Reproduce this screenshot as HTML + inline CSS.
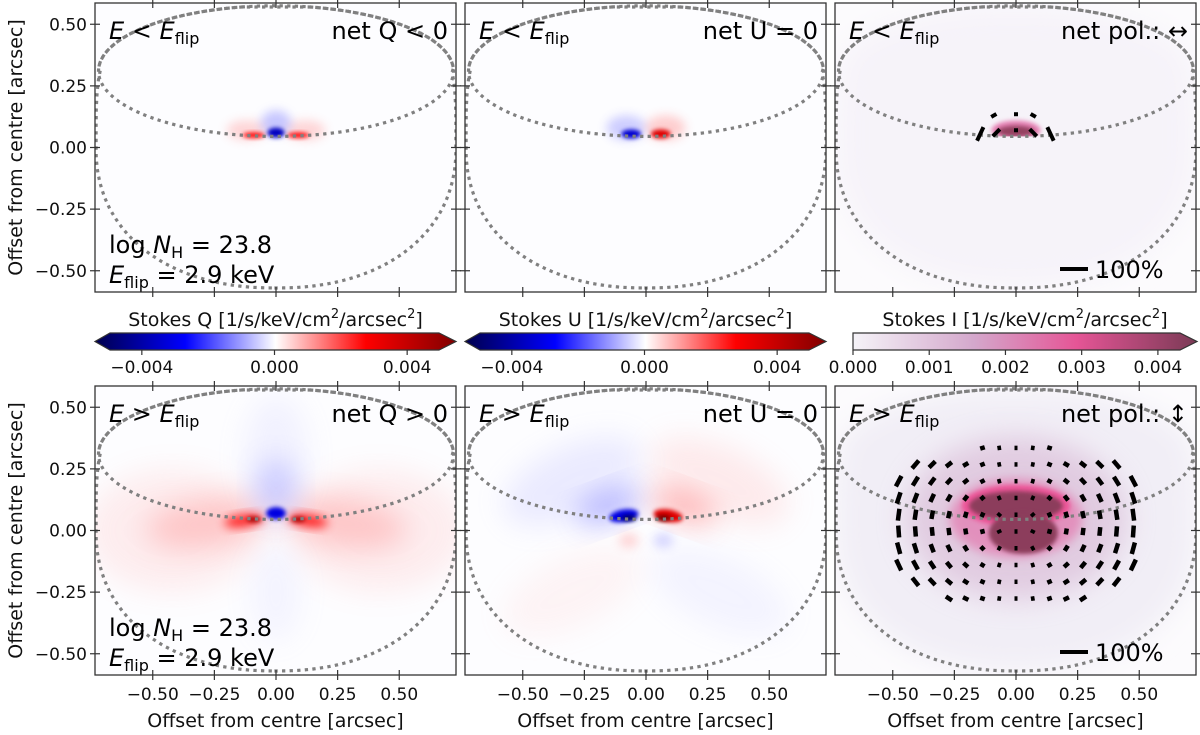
<!DOCTYPE html>
<html><head><meta charset="utf-8">
<style>
html,body{margin:0;padding:0;background:#fff;}
svg text{font-family:"DejaVu Sans","Liberation Sans",sans-serif;}
</style></head>
<body>
<svg id="fig" xmlns="http://www.w3.org/2000/svg" width="1200" height="730" viewBox="0 0 1200 730">
<defs>
<filter id="b1" x="-50%" y="-50%" width="200%" height="200%"><feGaussianBlur stdDeviation="2"/></filter>
<filter id="b2" x="-50%" y="-50%" width="200%" height="200%"><feGaussianBlur stdDeviation="5"/></filter>
<filter id="b3" x="-50%" y="-50%" width="200%" height="200%"><feGaussianBlur stdDeviation="14"/></filter>
<linearGradient id="seis" x1="0" x2="1" y1="0" y2="0">
<stop offset="0" stop-color="#00004c"/><stop offset="0.25" stop-color="#0000ff"/><stop offset="0.5" stop-color="#ffffff"/><stop offset="0.75" stop-color="#ff0000"/><stop offset="1" stop-color="#800000"/>
</linearGradient>
<linearGradient id="icm" x1="0" x2="1" y1="0" y2="0">
<stop offset="0" stop-color="#f5f3f8"/><stop offset="0.35" stop-color="#d4a8cc"/><stop offset="0.65" stop-color="#e55596"/><stop offset="1" stop-color="#7a3a55"/>
</linearGradient>
</defs>
</svg>
<script>
const NS='http://www.w3.org/2000/svg';
const svg=document.getElementById('fig');
const xTicks=[-0.5,-0.25,0,0.25,0.5];
const yTicks=[0.5,0.25,0,-0.25,-0.5];
const xTickLabels=['−0.50','−0.25','0.00','0.25','0.50'];
const yTickLabels=['0.50','0.25','0.00','−0.25','−0.50'];
const qTicks=[-0.004,0,0.004];
const qTickLabels=['−0.004','0.000','0.004'];
const iTicks=[0,0.001,0.002,0.003,0.004];
const iTickLabels=['0.000','0.001','0.002','0.003','0.004'];
const cols=[95,465,835], rows=[3,386];
const PW=361, PH=289, S=246.5;

function el(tag,attrs,parent){const e=document.createElementNS(NS,tag);for(const k in attrs)e.setAttribute(k,attrs[k]);(parent||svg).appendChild(e);return e;}

function outerPath(X,Y){
  let pts=[];
  for(let i=0;i<=100;i++){const t=-Math.PI/2+Math.PI*i/100;
    let y=0.57*Math.sin(t); let x;
    if(y<=0){x=0.73*Math.pow(Math.max(0,1-Math.pow(Math.abs(y)/0.57,2.2)),1/2.2);}
    else if(y<0.31){x=0.73*Math.pow(1-Math.pow(y/0.57,4),0.25);}
    else{const e=(y-0.31)/0.265;x=Math.abs(e)<1?0.72*Math.sqrt(1-e*e):0;x=Math.max(x,0.713*Math.sqrt(Math.max(0,1-e*e)));}
    pts.push([x,y]);}
  const all=pts.concat(pts.slice().reverse().map(p=>[-p[0],p[1]]));
  return 'M'+all.map(p=>X(p[0]).toFixed(1)+','+Y(p[1]).toFixed(1)).join('L')+'Z';
}

function panel(ci,ri,kind,idx){
  const L=cols[ci],T=rows[ri];
  const x0=L+181,y0=T+144.5;
  const X=v=>x0+v*S, Y=v=>y0-v*S;
  const g=el('g',{});
  
  
  const cp=el('clipPath',{id:'cp'+idx},g);el('rect',{x:L,y:T,width:PW,height:PH},cp);
  const c=el('g',{'clip-path':'url(#cp'+idx+')'},g);
  const op=outerPath(X,Y);
  el('rect',{x:L,y:T,width:PW,height:PH,fill:kind==='I'?'#fcfbfd':'#fdfdff'},c);
  const E=(cx,cy,rx,ry,fill,o,f,rot)=>el('ellipse',{cx:X(cx),cy:Y(cy),rx:rx*S,ry:ry*S,fill:fill,opacity:o,filter:f?'url(#'+f+')':'',transform:rot?`rotate(${rot} ${X(cx)} ${Y(cy)})`:''},c);
  if(kind==='I'){
    el('path',{d:op,fill:ri?'#f1eef6':'#f6f3f9',filter:'url(#b3)'},c);
  }
  const top=ri===0;
  if(kind==='Q'){
    if(top){
      E(-0.12,0.07,0.08,0.04,'#ff6060',0.25,'b2');E(0.12,0.07,0.08,0.04,'#ff6060',0.25,'b2');
      E(0,0.1,0.06,0.05,'#6060ff',0.35,'b2');
      E(-0.09,0.05,0.045,0.012,'#ff0000',0.95,'b1');E(0.09,0.05,0.045,0.012,'#ff0000',0.95,'b1');
      E(0,0.06,0.035,0.02,'#0000c0',1,'b1');
    }else{
      E(-0.42,0.0,0.35,0.25,'#ff9090',0.15,'b3');E(0.42,0.0,0.35,0.25,'#ff9090',0.15,'b3');
      E(-0.28,0.03,0.25,0.1,'#ff7070',0.3,'b3',-8);E(0.28,0.03,0.25,0.1,'#ff7070',0.3,'b3',8);
      E(0,0.3,0.13,0.25,'#b0b0ff',0.15,'b3');E(0,0.17,0.08,0.12,'#7070ff',0.3,'b3');
      E(0,-0.25,0.1,0.2,'#b0b0ff',0.12,'b3');
      E(-0.13,0.04,0.08,0.025,'#ff0000',0.85,'b2',-8);E(0.13,0.04,0.08,0.025,'#ff0000',0.85,'b2',8);
      E(-0.09,0.045,0.03,0.012,'#a00000',0.9,'b1');E(0.09,0.045,0.03,0.012,'#a00000',0.9,'b1');
      E(0,0.07,0.04,0.025,'#0000e0',1,'b1');
    }
  }
  if(kind==='U'){
    if(top){
      E(-0.08,0.08,0.08,0.05,'#6060ff',0.3,'b2');E(0.08,0.08,0.08,0.05,'#ff6060',0.3,'b2');
      E(-0.06,0.055,0.04,0.018,'#0000d0',1,'b1');E(0.06,0.055,0.04,0.018,'#e00000',1,'b1');
    }else{
      E(-0.3,0.2,0.3,0.14,'#a0a0ff',0.2,'b3',-25);E(0.3,0.2,0.3,0.14,'#ffa0a0',0.2,'b3',25);
      E(-0.3,-0.25,0.3,0.14,'#ffb0b0',0.12,'b3',-25);E(0.3,-0.25,0.3,0.14,'#b0b0ff',0.12,'b3',25);
      E(-0.15,0.1,0.14,0.06,'#5050ff',0.4,'b3',-20);E(0.15,0.1,0.14,0.06,'#ff5050',0.4,'b3',20);
      E(-0.09,0.06,0.06,0.025,'#0000e0',1,'b1',-10);E(0.09,0.06,0.06,0.025,'#e00000',1,'b1',10);
      E(-0.07,0.05,0.03,0.012,'#00005a',1,'b1');E(0.07,0.05,0.03,0.012,'#6a0000',1,'b1');
      E(-0.07,-0.04,0.04,0.03,'#ff8080',0.3,'b2');E(0.07,-0.04,0.04,0.03,'#8080ff',0.3,'b2');
    }
  }
  if(kind==='I'){
    if(top){
      E(0,0.07,0.1,0.04,'#e0559a',0.7,'b1');E(0,0.066,0.075,0.022,'#8f3d5c',0.95,'b1');
      el('rect',{x:X(-0.12),y:Y(0.045),width:0.24*S,height:10,fill:'#f6f3f9'},c);
    }else{
      E(0,0.05,0.45,0.33,'#d6b4d2',0.6,'b3');E(0,0.05,0.27,0.16,'#e46aa6',0.6,'b2');
      E(0,0.1,0.22,0.085,'#ee4f94',0.9,'b1');
      E(0,0.1,0.19,0.06,'#8c3c5b',1,'b1');E(0.03,-0.01,0.14,0.085,'#8c3c5b',1,'b1');
    }
  }
  el('path',{d:op,fill:'none',stroke:'#808080','stroke-width':3.2,'stroke-dasharray':'0.1 7.5','stroke-linecap':'square'},c);
  el('ellipse',{cx:X(0),cy:Y(0.31),rx:0.72*S,ry:0.265*S,fill:'none',stroke:'#808080','stroke-width':3.2,'stroke-dasharray':'0.1 7.5','stroke-linecap':'square'},c);
  if(kind==='I'){
    const bar=(x,y,len,ang,w)=>{const r=el('rect',{x:X(x)-w/2,y:Y(y)-len/2,width:w,height:len,fill:'#000',transform:`rotate(${ang} ${X(x)} ${Y(y)})`},c);
      
      };
    if(top){
      const bx=[-0.145,-0.08,0,0.07,0.14],by=[0.055,0.06,0.07,0.06,0.055],bl=[15,10,4,10,15],ba=[25,45,0,-45,-25];
      for(let i=0;i<5;i++)bar(bx[i],by[i],bl[i],ba[i],4);
      const tx=[-0.09,0,0.07],ty=[0.13,0.135,0.13],tl=[6,4,6],ta=[60,0,-60];
      for(let i=0;i<3;i++)bar(tx[i],ty[i],tl[i],ta[i],4);
    }else{
      const rowY=[0.335,0.268,0.2,0.132,0.064,-0.004,-0.072,-0.14,-0.208,-0.276];
      const rowCols=[[5,9],[1,13],[0,14],[0,14],[0,14],[0,14],[0,14],[0,14],[1,13],[3,11]];
      for(let r=0;r<10;r++)for(let k=rowCols[r][0];k<=rowCols[r][1];k++){
        const x=-0.476+k*0.068,y=rowY[r];
        const dx=x,dy=(y-0.02)*1.4;
        let len=3+9*Math.pow(Math.abs(x)/0.48,1.3);
        const ang=Math.atan2(-dx,dy)*180/Math.PI;
        bar(x,y,len,-ang+90,4.5);
      }
    }
  }
  el('rect',{x:L,y:T,width:PW,height:PH,fill:'none',stroke:'#333','stroke-width':1.3},g);
  xTicks.forEach((v,i)=>{
    el('line',{x1:X(v),x2:X(v),y1:T+PH-5,y2:T+PH+5,stroke:'#333','stroke-width':1.2},g);
    el('line',{x1:X(v),x2:X(v),y1:T-5,y2:T+5,stroke:'#333','stroke-width':1.2},g);
    if(ri===1){const t=el('text',{x:X(v),y:T+PH+25,'text-anchor':'middle','font-size':17,fill:'#111'},g);t.textContent=xTickLabels[i];
      }
  });
  yTicks.forEach((v,i)=>{
    el('line',{x1:L-5,x2:L+5,y1:Y(v),y2:Y(v),stroke:'#333','stroke-width':1.2},g);
    el('line',{x1:L+PW-5,x2:L+PW+5,y1:Y(v),y2:Y(v),stroke:'#333','stroke-width':1.2},g);
    if(ci===0){const t=el('text',{x:L-8,y:Y(v)+6,'text-anchor':'end','font-size':17,fill:'#111'},g);t.textContent=yTickLabels[i];
      }
  });
  return {g,L,T,X,Y};
}

const kinds=['Q','U','I'];
let n=0;
const netTexts=[['net Q < 0','net U = 0','net pol.: ↔'],['net Q > 0','net U = 0','net pol.: ↕']];
for(let r=0;r<2;r++)for(let c=0;c<3;c++){
  const p=panel(c,r,kinds[c],n++);
  const t1=el('text',{x:p.L+14,y:p.T+36,'font-size':24,fill:'#000'},p.g);
  t1.innerHTML='<tspan font-style="italic">E</tspan> '+(r?'&gt;':'&lt;')+' <tspan font-style="italic">E</tspan><tspan font-size="16" dy="5">flip</tspan>';
  
  const t2=el('text',{x:p.L+PW-8,y:p.T+36,'font-size':24,'text-anchor':'end',fill:'#000'},p.g);
  t2.textContent=netTexts[r][c];
  
  if(c===0){
    const a=el('text',{x:p.L+14,y:p.T+250,'font-size':24,fill:'#000'},p.g);
    a.innerHTML='log <tspan font-style="italic">N</tspan><tspan font-size="16" dy="5">H</tspan><tspan dy="-5"> = 23.8</tspan>';
    
    const b=el('text',{x:p.L+14,y:p.T+280,'font-size':24,fill:'#000'},p.g);
    b.innerHTML='<tspan font-style="italic">E</tspan><tspan font-size="16" dy="5">flip</tspan><tspan dy="-5"> = 2.9 keV</tspan>';
    
  }
  if(c===2){
    el('rect',{x:p.L+225,y:p.T+264,width:28,height:4,fill:'#000'},p.g);
    const s=el('text',{x:p.L+260,y:p.T+275,'font-size':24,fill:'#000'},p.g);s.textContent='100%';
    
  }
  if(r===1){
    const xl=el('text',{x:p.L+PW/2,y:p.T+PH+52,'font-size':19,'text-anchor':'middle',fill:'#111'},p.g);
    xl.textContent='Offset from centre [arcsec]';
    
  }
  if(c===0){
    const yl=el('text',{x:0,y:0,'font-size':19,'text-anchor':'middle',fill:'#111',transform:`translate(22 ${p.T+PH/2}) rotate(-90)`},p.g);
    yl.textContent='Offset from centre [arcsec]';
    
  }
}
function cbar(L,R,vmin,vmax,ticks,labels,grad,title,leftArrow,name){
  const g=el('g',{});
  
  
  const y1=333,y2=350,ym=341.5;
  const a=leftArrow?15:0,b=17;
  const d=`M${L+a},${y1}L${R-b},${y1}L${R},${ym}L${R-b},${y2}L${L+a},${y2}`+(leftArrow?`L${L},${ym}Z`:'Z');
  el('path',{d:d,fill:`url(#${grad})`,stroke:'#333','stroke-width':1.2},g);
  const sc=v=>L+a+(v-vmin)/(vmax-vmin)*(R-b-L-a);
  ticks.forEach((v,i)=>{el('line',{x1:sc(v),x2:sc(v),y1:y2,y2:y2+5,stroke:'#333','stroke-width':1.2},g);
    const t=el('text',{x:sc(v),y:373,'font-size':17,'text-anchor':'middle',fill:'#111'},g);t.textContent=labels[i];});
  const tt=el('text',{x:(L+R)/2,y:326,'font-size':19,'text-anchor':'middle',fill:'#111'},g);
  tt.innerHTML=title+' [1/s/keV/cm<tspan font-size="13" dy="-8">2</tspan><tspan dy="8">/arcsec</tspan><tspan font-size="13" dy="-8">2</tspan><tspan dy="8">]</tspan>';
}
cbar(95,456,-0.00496,0.00496,qTicks,qTickLabels,'seis','Stokes Q',true,'colorbar-q');
cbar(465,826,-0.00496,0.00496,qTicks,qTickLabels,'seis','Stokes U',true,'colorbar-u');
cbar(853,1197,0,0.00429,iTicks,iTickLabels,'icm','Stokes I',false,'colorbar-i');
</script>
</body></html>
